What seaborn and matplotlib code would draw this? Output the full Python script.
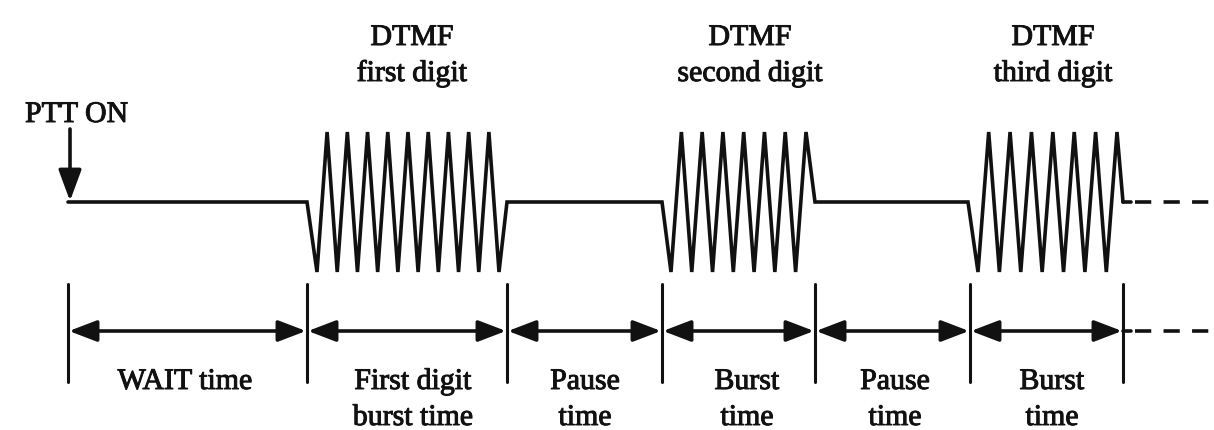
import numpy as np
import pandas as pd
import matplotlib
matplotlib.use("Agg")
import matplotlib.pyplot as plt
from matplotlib.patches import ArrowStyle
import matplotlib.patheffects as pe
import seaborn as sns

# ---- diagram data (pixel-space timeline) ----
boundaries = [68, 307, 507, 662, 815, 970, 1123]      # segment edges
x_end = 1214                                           # end of dashed continuation
baseline_y = 203
amplitude = 70
burst_starts = [307, 662, 968]                         # baseline ends, burst begins
burst_ends = [507, 815, 1123]                          # burst returns to baseline
first_vertex = [317, 671, 978]                         # first trough
last_vertex = [499, 806, 1117]                         # last extreme
vertex_counts = [19, 14, 14]                           # troughs + peaks in each burst

top_labels = [["DTMF", "first digit"], ["DTMF", "second digit"], ["DTMF", "third digit"]]
top_label_x = [412, 750, 1053]
top_baselines = [46, 82]

bottom_labels = [["WAIT time"], ["First digit", "burst time"], ["Pause", "time"],
                 ["Burst", "time"], ["Pause", "time"], ["Burst", "time"]]
bottom_label_x = [185, 413, 585, 747, 895, 1052]
bottom_baselines = [390, 426]

ptt_text = "PTT ON"
ptt_x, ptt_text_baseline = 25, 123
ptt_arrow_top = 130

tick_top, tick_bottom = 285, 383
arrow_y = 332

# ---- build waveform ----
xs = [boundaries[0]]
ys = [baseline_y]
for s, e, f, l, n in zip(burst_starts, burst_ends, first_vertex, last_vertex, vertex_counts):
    xs.append(s); ys.append(baseline_y)
    vx = np.linspace(f, l, n)
    for i, v in enumerate(vx):
        xs.append(v)
        ys.append(baseline_y + amplitude if i % 2 == 0 else baseline_y - amplitude)
    xs.append(e); ys.append(baseline_y)
wave = pd.DataFrame({"x": xs, "y": ys, "seg": 0})

sns.set_theme(style="white")
plt.rcParams["font.family"] = ["Liberation Serif", "DejaVu Serif"]

fig = plt.figure(figsize=(12.14, 4.31), dpi=100)
ax = fig.add_axes([0, 0, 1, 1])
ax.set_xlim(0, 1214)
ax.set_ylim(431, 0)
ax.axis("off")

LW = 2.6
sns.lineplot(data=wave, x="x", y="y", sort=False, estimator=None, color="#111111",
             linewidth=LW, ax=ax, legend=False)
ax.lines[-1].set_solid_joinstyle("miter")

# dashed continuations
ax.plot([burst_ends[-1], burst_ends[-1] + 8], [baseline_y, baseline_y], color="#111111", lw=LW)
ax.plot([burst_ends[-1] + 12, x_end], [baseline_y, baseline_y], color="#111111", lw=LW,
        dashes=(4.5, 3.4))
ax.plot([boundaries[-1], boundaries[-1] + 8], [arrow_y, arrow_y], color="#111111", lw=LW)
ax.plot([boundaries[-1] + 12, x_end], [arrow_y, arrow_y], color="#111111", lw=LW,
        dashes=(4.5, 3.4))

# vertical tick lines
for b in boundaries:
    ax.plot([b, b], [tick_top, tick_bottom], color="#111111", lw=2.2)

# double arrows
style = ArrowStyle("<|-|>", head_length=17, head_width=6.5)
for a, b in zip(boundaries[:-1], boundaries[1:]):
    ax.annotate("", xy=(b - 1, arrow_y), xytext=(a + 1, arrow_y),
                arrowprops=dict(arrowstyle=style, color="#111111", lw=LW,
                                shrinkA=0, shrinkB=0, mutation_scale=1))

# PTT ON arrow
ax.annotate("", xy=(boundaries[0] + 2, baseline_y - 1), xytext=(boundaries[0] + 2, ptt_arrow_top),
            arrowprops=dict(arrowstyle=ArrowStyle("-|>", head_length=19, head_width=7),
                            color="#111111", lw=LW, shrinkA=0, shrinkB=0, mutation_scale=1))
FS = 21.5
effects = [pe.withStroke(linewidth=0.7, foreground="#111111")]
ax.text(ptt_x, ptt_text_baseline, ptt_text, ha="left", va="baseline", fontsize=FS,
        color="#111111", path_effects=effects)

for lines, x in zip(top_labels, top_label_x):
    for line, yb in zip(lines, top_baselines):
        ax.text(x, yb, line, ha="center", va="baseline", fontsize=FS, color="#111111",
                path_effects=effects)

for lines, x in zip(bottom_labels, bottom_label_x):
    for line, yb in zip(lines, bottom_baselines):
        ax.text(x, yb, line, ha="center", va="baseline", fontsize=FS, color="#111111",
                path_effects=effects)

fig.savefig("out.png", dpi=100, facecolor="white")
